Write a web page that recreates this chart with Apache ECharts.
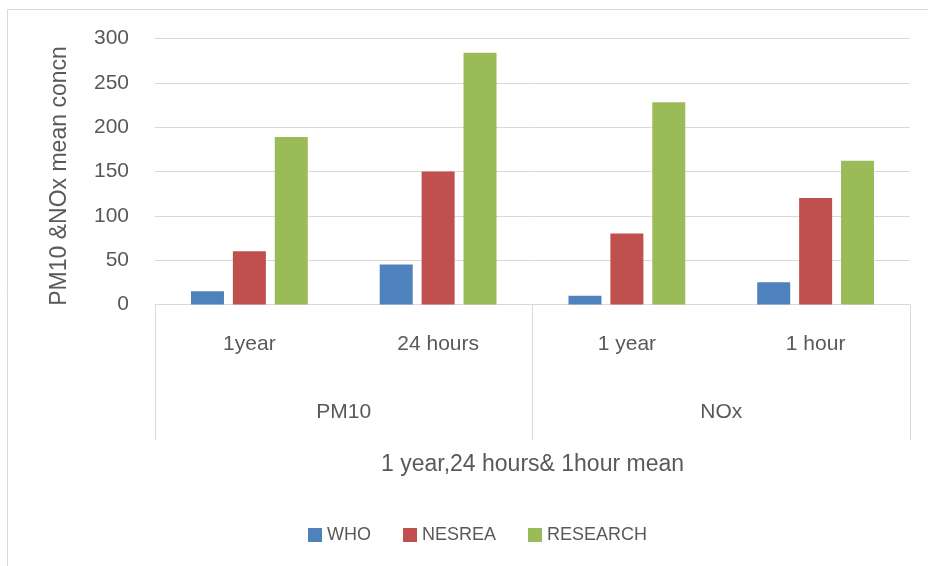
<!DOCTYPE html>
<html>
<head>
<meta charset="utf-8">
<script src="https://cdn.jsdelivr.net/npm/echarts@6/dist/echarts.min.js"></script>
<style>
html,body{margin:0;padding:0;background:#fff;}
#chart{width:928px;height:566px;}
</style>
</head>
<body>
<div id="chart"></div>
<script>
const categories = ['1year', '24 hours', '1 year', '1 hour'];
const groups = ['PM10', 'NOx'];
const seriesNames = ['WHO', 'NESREA', 'RESEARCH'];
const whoValues = [15, 45, 10, 25];
const nesreaValues = [60, 150, 80, 120];
const researchValues = [189, 284, 228, 162];
const yTicks = { min: 0, max: 300, interval: 50 };
const yTitle = 'PM10 &NOx mean concn';
const xTitle = '1 year,24 hours& 1hour mean';

const colors = ['#4f81bd', '#c0504d', '#9bbb59'];
const FONT = 'Liberation Sans';
const TXT = '#595959';
const LINE = '#d9d9d9';

const chart = echarts.init(document.getElementById('chart'), null, { renderer: 'canvas' });
const values = [whoValues, nesreaValues, researchValues];

chart.setOption({
  animation: false,
  color: colors,
  textStyle: { fontFamily: FONT, color: TXT },
  graphic: [{
    type: 'rect',
    shape: { x: 7.5, y: 9.5, width: 1000, height: 1000 },
    style: { fill: 'none', stroke: LINE, lineWidth: 1 },
    silent: true, z: -10
  }],
  grid: { left: 155, right: 18, top: 38.5, bottom: 261.5, containLabel: false },
  legend: {
    data: seriesNames,
    left: 303, top: 520,
    itemWidth: 14, itemHeight: 14, itemGap: 32,
    icon: 'rect',
    textStyle: { fontFamily: FONT, fontSize: 18, color: TXT, lineHeight: 20 }
  },
  xAxis: [{
    type: 'category',
    data: categories,
    position: 'bottom',
    axisLine: { show: true, lineStyle: { color: LINE, width: 1 } },
    axisTick: { show: false },
    axisLabel: { fontFamily: FONT, fontSize: 21, color: TXT, margin: 29, interval: 0, lineHeight: 21 }
  }, {
    type: 'category',
    data: groups,
    position: 'bottom',
    offset: 0,
    axisLine: { show: false },
    axisTick: { show: true, length: 136, lineStyle: { color: LINE, width: 1 } },
    axisLabel: { fontFamily: FONT, fontSize: 21, color: TXT, margin: 97, lineHeight: 21 },
    name: xTitle,
    nameLocation: 'middle',
    nameGap: 149,
    nameTextStyle: { fontFamily: FONT, fontSize: 23, color: TXT, lineHeight: 23 }
  }],
  yAxis: {
    type: 'value',
    min: yTicks.min, max: yTicks.max, interval: yTicks.interval,
    axisLine: { show: false },
    axisTick: { show: false },
    splitLine: { lineStyle: { color: LINE, width: 1 } },
    axisLabel: { fontFamily: FONT, fontSize: 21, color: TXT, margin: 26 },
    name: yTitle,
    nameLocation: 'middle',
    nameGap: 84,
    nameTextStyle: { fontFamily: FONT, fontSize: 23, color: TXT, padding: [0, 9, 0, 0] }
  },
  series: seriesNames.map((n, i) => ({
    name: n,
    type: 'bar',
    xAxisIndex: 0,
    data: values[i],
    barWidth: 33,
    barGap: '27%',
    itemStyle: { color: colors[i] }
  }))
});
</script>
</body>
</html>
